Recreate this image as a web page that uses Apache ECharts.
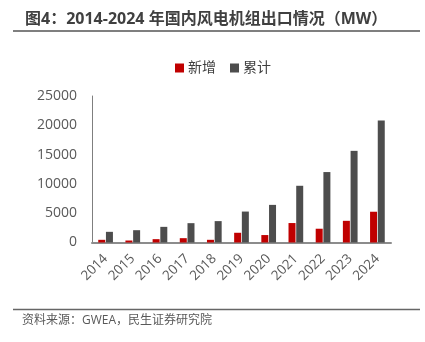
<!DOCTYPE html>
<html><head><meta charset="utf-8">
<script src="https://cdn.jsdelivr.net/npm/echarts@6/dist/echarts.min.js"></script>
<style>html,body{margin:0;padding:0;background:#fff}#c{width:425px;height:342px}</style>
</head><body><div id="c"></div>
<script>
const categories = ['2014','2015','2016','2017','2018','2019','2020','2021','2022','2023','2024'];
const newAdded = [460, 340, 570, 740, 460, 1660, 1270, 3320, 2350, 3700, 5250];
const cumulative = [1820, 2100, 2670, 3300, 3650, 5280, 6420, 9680, 12020, 15640, 20820];
const seriesNames = ['新增', '累计'];
const titleText = '图4：2014-2024 年国内风电机组出口情况（MW）';
const sourceText = '资料来源：GWEA，民生证券研究院';
const FONT = '"Open Sans", "Noto Sans CJK SC", sans-serif';

const chart = echarts.init(document.getElementById('c'), null, {renderer: 'canvas'});
chart.setOption({
  animation: false,
  textStyle: {fontFamily: FONT},
  title: {
    text: titleText, left: 20, top: 6,
    textStyle: {fontFamily: FONT, fontSize: 16, fontWeight: 'bold', color: '#404040'}
  },
  legend: {
    data: seriesNames, top: 56, left: 170,
    itemWidth: 9, itemHeight: 9, itemGap: 14,
    textStyle: {fontFamily: FONT, fontSize: 14, color: '#404040', padding: [0,0,0,-1]},
    icon: 'rect'
  },
  graphic: [
    {type: 'line', shape: {x1: 13, y1: 31, x2: 420, y2: 31}, style: {stroke: '#555', lineWidth: 1.5}},
    {type: 'line', shape: {x1: 13, y1: 309.5, x2: 420, y2: 309.5}, style: {stroke: '#666', lineWidth: 1.5}},
    {type: 'text', left: 22, top: 315, style: {text: sourceText, font: '12px ' + FONT, fill: '#595959'}}
  ],
  grid: {left: 92, right: 34, top: 96, bottom: 99.5},
  xAxis: {
    type: 'category', data: categories,
    axisLine: {lineStyle: {color: '#8c8c8c', width: 2}},
    axisTick: {show: false},
    axisLabel: {rotate: 45, fontSize: 13.5, color: '#595959', margin: 14, fontFamily: FONT}
  },
  yAxis: {
    type: 'value', min: 0, max: 25000, interval: 5000,
    axisLine: {show: true, lineStyle: {color: '#7f7f7f', width: 1}},
    axisTick: {show: false},
    splitLine: {show: false},
    axisLabel: {fontSize: 14, color: '#595959', margin: 15, fontFamily: FONT,
      formatter: v => String(v)}
  },
  series: [
    {name: seriesNames[0], type: 'bar', data: newAdded, barWidth: 7, barGap: '10%',
     itemStyle: {color: '#C00000'}},
    {name: seriesNames[1], type: 'bar', data: cumulative, barWidth: 7,
     itemStyle: {color: '#4D4D4D'}}
  ]
});
</script></body></html>
